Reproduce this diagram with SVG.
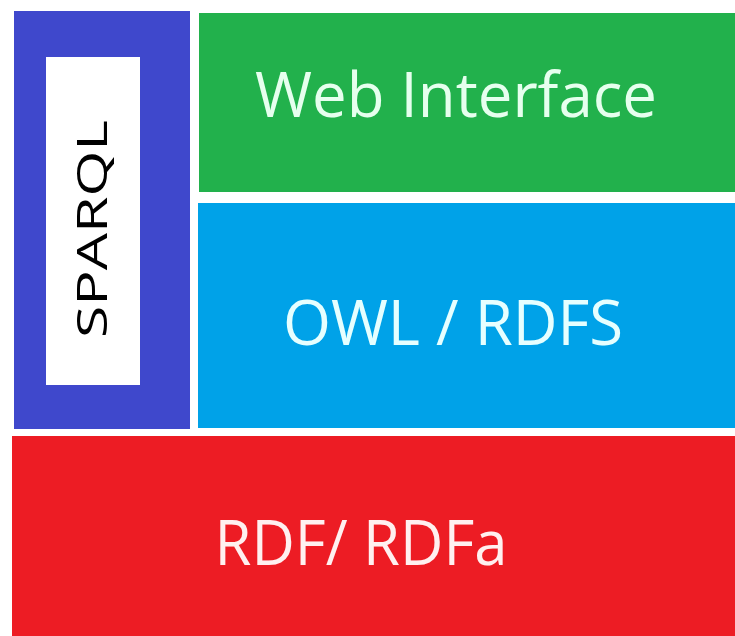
<svg xmlns="http://www.w3.org/2000/svg" width="735" height="636" viewBox="0 0 735 636">
<style>
.lbl{font-family:"Open Sans","Liberation Sans",sans-serif;text-anchor:middle}
</style>
<rect width="735" height="636" fill="#ffffff"/>
<g id="sparql">
<rect x="14" y="11" width="176" height="418" fill="#3f48cc"/>
<rect x="46" y="57" width="94" height="328" fill="#ffffff"/>
<text class="lbl" transform="translate(107,229) rotate(-90)" font-size="42" fill="#000000" textLength="218" lengthAdjust="spacingAndGlyphs">SPARQL</text>
</g>
<g id="web">
<rect x="199" y="13" width="536" height="179" fill="#22b14c"/>
<text class="lbl" x="456" y="117" font-size="63" fill="#e6ffee" textLength="402" lengthAdjust="spacingAndGlyphs">Web Interface</text>
</g>
<g id="owl">
<rect x="198" y="203" width="537" height="225" fill="#00a2e8"/>
<text class="lbl" x="453" y="345" font-size="63" fill="#e6ffff" textLength="340" lengthAdjust="spacingAndGlyphs">OWL / RDFS</text>
</g>
<g id="rdf">
<rect x="12" y="436" width="723" height="200" fill="#ed1c24"/>
<text class="lbl" x="361" y="565" font-size="63" fill="#fff0f0" textLength="293" lengthAdjust="spacingAndGlyphs">RDF/ RDFa</text>
</g>
<g id="connectors"/>
</svg>
